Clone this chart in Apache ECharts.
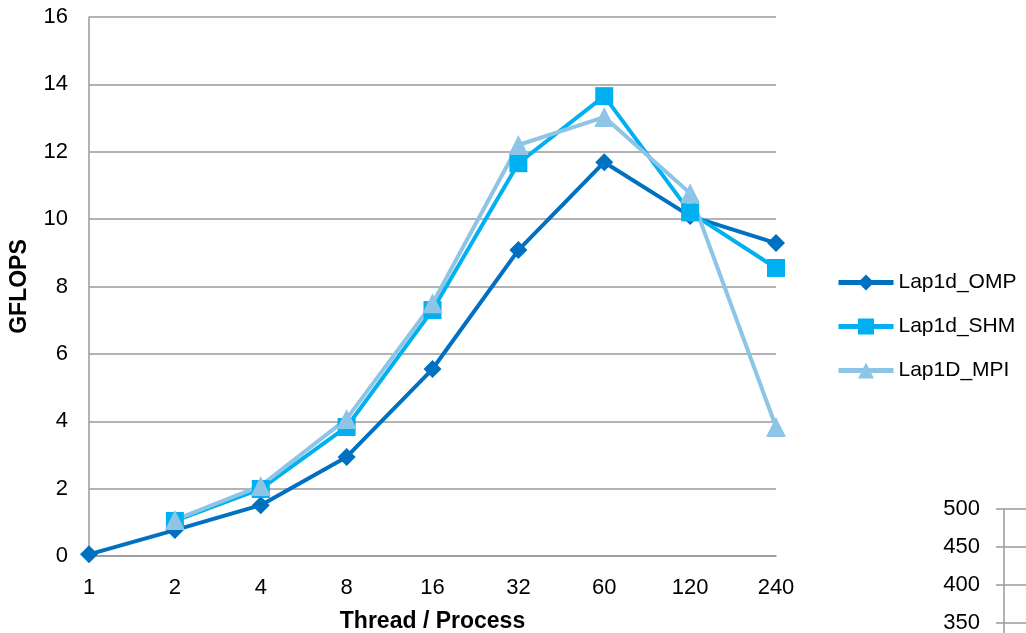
<!DOCTYPE html>
<html>
<head>
<meta charset="utf-8">
<script src="https://cdn.jsdelivr.net/npm/echarts@6/dist/echarts.min.js"></script>
<style>
  html, body { margin: 0; padding: 0; background: #ffffff; }
  #chart { width: 1026px; height: 633px; }
</style>
</head>
<body>
<div id="chart"></div>
<script>
// Thread / process counts on the category axis
const threads = ['1', '2', '4', '8', '16', '32', '60', '120', '240'];

// GFLOPS for each implementation
const lap1dOMP = [0.05, 0.77, 1.51, 2.94, 5.55, 9.08, 11.69, 10.09, 9.29];
const lap1dSHM = [null, 1.04, 1.99, 3.83, 7.30, 11.66, 13.65, 10.20, 8.55];
const lap1dMPI = [null, 1.07, 2.08, 4.07, 7.50, 12.20, 13.03, 10.77, 3.83];

// Axis ranges
const yMax = 16, yStep = 2;
const sideMax = 500, sideStep = 50;

const FONT = '"Liberation Sans", Arial, sans-serif';
const GRID_GREY = '#9a9a9a';

const chart = echarts.init(document.getElementById('chart'), null, { renderer: 'canvas' });

function lineSeries(name, data, color, symbol, size) {
  return {
    name: name,
    type: 'line',
    data: data,
    xAxisIndex: 0,
    yAxisIndex: 0,
    symbol: symbol,
    symbolSize: size,
    connectNulls: false,
    lineStyle: { color: color, width: 4 },
    itemStyle: { color: color },
    emphasis: { disabled: true },
    animation: false
  };
}

chart.setOption({
  animation: false,
  textStyle: { fontFamily: FONT },
  grid: [
    { left: 89, right: 250, top: 17, bottom: 77, containLabel: false, outerBoundsMode: 'none' },
    { left: 1004, top: 509, width: 60, height: 380, containLabel: false, outerBoundsMode: 'none' }
  ],
  legend: {
    orient: 'vertical',
    left: 836,
    top: 272,
    padding: 0,
    itemWidth: 55,
    itemHeight: 20,
    itemGap: 23,
    lineStyle: { width: 5 },
    textStyle: { fontFamily: FONT, fontSize: 21, color: '#000' },
    data: ['Lap1d_OMP', 'Lap1d_SHM', 'Lap1D_MPI']
  },
  xAxis: [
    {
      gridIndex: 0,
      type: 'category',
      data: threads,
      boundaryGap: false,
      axisLine: { show: true, lineStyle: { color: GRID_GREY, width: 1.5 } },
      axisTick: { show: false },
      axisLabel: { fontSize: 22, color: '#000', margin: 21, fontFamily: FONT },
      name: 'Thread / Process',
      nameLocation: 'middle',
      nameGap: 54,
      nameTextStyle: { fontSize: 23, fontWeight: 'bold', color: '#000', fontFamily: FONT }
    },
    {
      gridIndex: 1,
      type: 'category',
      data: threads,
      show: false
    }
  ],
  yAxis: [
    {
      gridIndex: 0,
      type: 'value',
      min: 0,
      max: yMax,
      interval: yStep,
      axisLine: { show: true, lineStyle: { color: GRID_GREY, width: 1.5 } },
      axisTick: { show: false },
      splitLine: { show: true, lineStyle: { color: GRID_GREY, width: 1.5 } },
      axisLabel: { fontSize: 22, color: '#000', margin: 21, fontFamily: FONT },
      name: 'GFLOPS',
      nameLocation: 'middle',
      nameGap: 58,
      nameRotate: 90,
      nameTextStyle: { fontSize: 23, fontWeight: 'bold', color: '#000', fontFamily: FONT }
    },
    {
      gridIndex: 1,
      type: 'value',
      min: 0,
      max: sideMax,
      interval: sideStep,
      axisLine: { show: true, lineStyle: { color: GRID_GREY, width: 1.5 } },
      axisTick: { show: true, length: 8, inside: false, lineStyle: { color: GRID_GREY, width: 1.5 } },
      splitLine: { show: true, lineStyle: { color: GRID_GREY, width: 1.5 } },
      axisLabel: { fontSize: 22, color: '#000', margin: 24, fontFamily: FONT }
    }
  ],
  series: [
    lineSeries('Lap1d_OMP', lap1dOMP, '#0070c0', 'diamond', 18),
    lineSeries('Lap1d_SHM', lap1dSHM, '#00b0f0', 'rect', 18),
    lineSeries('Lap1D_MPI', lap1dMPI, '#8ec5e6', 'triangle', 20)
  ]
});
</script>
</body>
</html>
